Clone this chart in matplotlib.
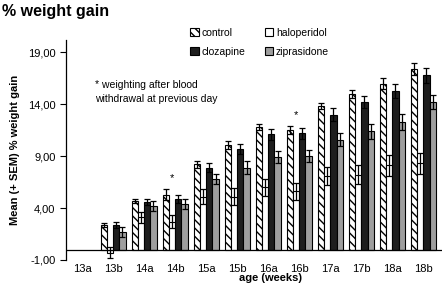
import matplotlib
matplotlib.use("Agg")
import matplotlib.pyplot as plt
import numpy as np

plt.rcParams['font.family'] = ['Liberation Sans', 'DejaVu Sans']
plt.rcParams['hatch.linewidth'] = 1.0

weeks = ['13a', '13b', '14a', '14b', '15a', '15b', '16a', '16b', '17a', '17b', '18a', '18b']
groups = ['control', 'haloperidol', 'clozapine', 'ziprasidone']

control = [np.nan, 2.4, 4.7, 5.3, 8.2, 10.1, 11.8, 11.5, 13.8, 15.0, 16.0, 17.4]
control_err = [np.nan, 0.2, 0.2, 0.5, 0.3, 0.4, 0.3, 0.4, 0.3, 0.4, 0.5, 0.6]
haloperidol = [np.nan, -0.3, 3.1, 2.7, 5.1, 5.1, 6.0, 5.6, 7.1, 7.2, 8.1, 8.3]
haloperidol_err = [np.nan, 0.5, 0.5, 0.6, 0.7, 0.8, 0.8, 0.8, 0.9, 0.9, 1.0, 1.0]
clozapine = [np.nan, 2.4, 4.6, 4.9, 7.9, 9.7, 11.1, 11.2, 13.0, 14.2, 15.3, 16.8]
clozapine_err = [np.nan, 0.3, 0.3, 0.4, 0.4, 0.5, 0.5, 0.5, 0.6, 0.6, 0.7, 0.7]
ziprasidone = [np.nan, 1.7, 4.2, 4.4, 6.8, 7.9, 8.9, 9.0, 10.6, 11.4, 12.3, 14.2]
ziprasidone_err = [np.nan, 0.5, 0.5, 0.5, 0.5, 0.6, 0.6, 0.6, 0.6, 0.7, 0.8, 0.7]

starred = ['14b', '16b']

fig = plt.figure(figsize=(4.46, 2.92), dpi=100)
ax = fig.add_axes([0.148, 0.110, 0.843, 0.753])

x = np.arange(len(weeks))
w = 0.2
series = [
    (control, control_err, dict(color='white', hatch='\\\\\\\\', edgecolor='black')),
    (haloperidol, haloperidol_err, dict(color='white', edgecolor='black')),
    (clozapine, clozapine_err, dict(color='#1e1e1e', edgecolor='black')),
    (ziprasidone, ziprasidone_err, dict(color='#9e9e9e', edgecolor='black')),
]
bars = []
for i, (vals, errs, style) in enumerate(series):
    b = ax.bar(x + (i - 1.5) * w, vals, w, yerr=errs, linewidth=0.8,
               error_kw=dict(ecolor='black', elinewidth=0.9, capsize=2.5, capthick=0.9),
               label=groups[i], **style)
    bars.append(b)

for wk in starred:
    k = weeks.index(wk)
    top = control[k] + control_err[k]
    ax.text(x[k] - 0.1, top + 0.6, '*', ha='center', va='bottom', fontsize=8)

ax.text(0.42, 16.3, '* weighting after blood\nwithdrawal at previous day', fontsize=7.5,
        va='top', linespacing=1.5)

ax.axhline(0, color='black', linewidth=0.9)
ax.set_xlim(-0.52, 11.6)
ax.set_ylim(-1, 20.2)
ax.set_yticks([-1, 4, 9, 14, 19])
ax.set_yticklabels(['-1,00', '4,00', '9,00', '14,00', '19,00'], fontsize=8)
ax.set_xticks(x)
ax.set_xticklabels(weeks, fontsize=8)
ax.tick_params(axis='x', length=0, pad=3)
ax.tick_params(axis='y', direction='out', length=4, width=0.8)
for s in ['top', 'right', 'bottom']:
    ax.spines[s].set_visible(False)
ax.spines['left'].set_linewidth(0.9)

ax.set_ylabel('Mean (+ SEM) % weight gain', fontsize=8, fontweight='bold', labelpad=6)
ax.set_xlabel('age (weeks)', fontsize=8, fontweight='bold')
ax.xaxis.set_label_coords(0.545, -0.06)

fig.text(0.005, 0.985, '% weight gain', fontsize=11.5, fontweight='bold', va='top', ha='left')

# column-first fill: put control/clozapine in the first column
order = [0, 2, 1, 3]
ax.legend([bars[i] for i in order], [groups[i] for i in order], ncol=2, loc='upper left',
          bbox_to_anchor=(0.32, 1.075), frameon=False, fontsize=7.5,
          handlelength=0.8, handleheight=0.8, handletextpad=0.3, columnspacing=1.8,
          labelspacing=0.9, borderaxespad=0)

fig.savefig('out.png', dpi=100)
